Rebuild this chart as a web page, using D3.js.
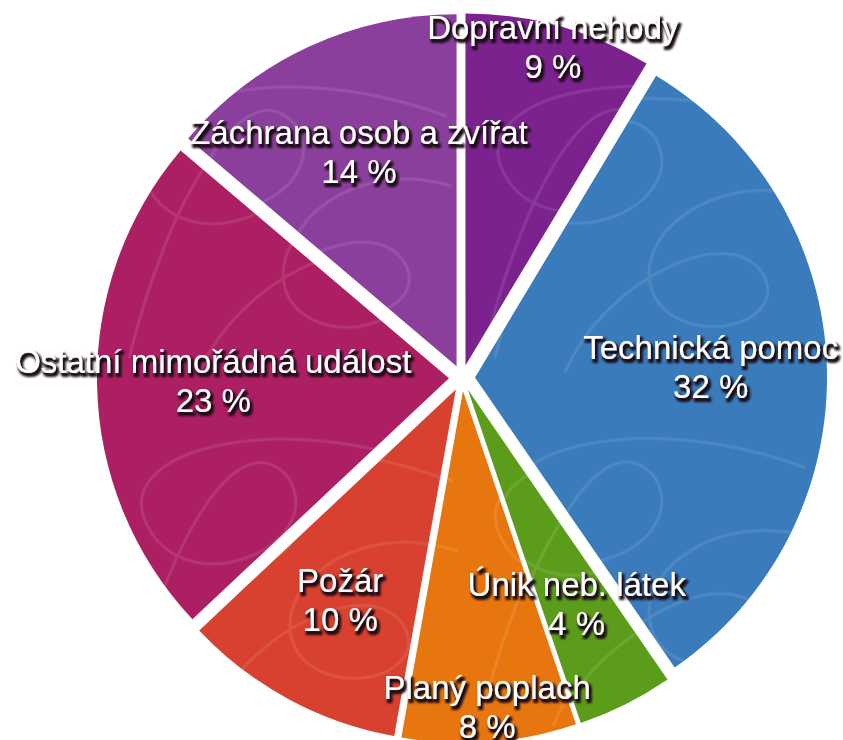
<!DOCTYPE html>
<html>
<head>
<meta charset="utf-8">
<script src="https://cdn.jsdelivr.net/npm/d3@7"></script>
<style>
  html, body { margin: 0; padding: 0; background: #fff; }
  svg { display: block; }
</style>
</head>
<body>
<svg class="pie-chart"></svg>
<script>
// share of interventions by type (percent)
var categories = ["Dopravní nehody", "Technická pomoc", "Únik neb. látek", "Planý poplach",
                  "Požár", "Ostatní mimořádná událost", "Záchrana osob a zvířat"];
var values = [8.6, 31.8, 4.4, 8.0, 10.2, 23.2, 13.8];
var colors = ["#7b228f", "#3a7bbb", "#5b9d1b", "#e8760f", "#d8402f", "#ac1f62", "#8b3f9d"];

// label distance from centre, as a fraction of the radius (two small ones pushed out)
var labelRadius = [0.93, 0.67, 0.69, 0.91, 0.69, 0.67, 0.66];

var svgWidth = 843, svgHeight = 740;
var cx = 462, cy = 378, radius = 352, explode = 13;

var svg = d3.select("svg.pie-chart")
    .attr("width", svgWidth)
    .attr("height", svgHeight);

var defs = svg.append("defs");

// faint scribble texture laid over the slices
var pat = defs.append("pattern")
    .attr("id", "scribble")
    .attr("patternUnits", "userSpaceOnUse")
    .attr("width", 340)
    .attr("height", 340);
var scribbles = [
    "M20,320 C60,160 130,40 180,100 C220,170 70,230 35,140 C10,70 170,30 330,90",
    "M90,335 C130,240 260,180 290,240 C310,290 210,310 180,260 C150,200 240,130 335,160"
];
pat.selectAll("path")
    .data(scribbles)
    .enter()
    .append("path")
    .attr("d", function (d) { return d; })
    .style("fill", "none")
    .style("stroke", "#fff")
    .style("stroke-opacity", 0.1)
    .style("stroke-width", 3);

// dark drop shadow under the white labels
var shadow = defs.append("filter")
    .attr("id", "shadow")
    .attr("x", "-5%").attr("y", "-20%")
    .attr("width", "115%").attr("height", "150%");
shadow.append("feMorphology")
    .attr("in", "SourceAlpha")
    .attr("operator", "dilate")
    .attr("radius", 0.6)
    .attr("result", "thick");
shadow.append("feOffset")
    .attr("in", "thick")
    .attr("dx", 2)
    .attr("dy", 2.5)
    .attr("result", "moved");
shadow.append("feGaussianBlur")
    .attr("in", "moved")
    .attr("stdDeviation", 0.8)
    .attr("result", "soft");
shadow.append("feFlood")
    .attr("flood-color", "#1a0a14");
shadow.append("feComposite")
    .attr("in2", "soft")
    .attr("operator", "in")
    .attr("result", "shade");
var merge = shadow.append("feMerge");
merge.append("feMergeNode").attr("in", "shade");
merge.append("feMergeNode").attr("in", "SourceGraphic");

var total = d3.sum(values);
var data = categories.map(function (c, i) {
    return { name: c, value: values[i], color: colors[i], lr: labelRadius[i] };
});

var pie = d3.pie()
    .sort(null)
    .value(function (d) { return d.value; });

var arc = d3.arc()
    .innerRadius(0)
    .outerRadius(radius);

function mid(d) { return (d.startAngle + d.endAngle) / 2; }
function shift(d) {
    var a = mid(d);
    return [explode * Math.sin(a), -explode * Math.cos(a)];
}

var g = svg.append("g")
    .attr("transform", "translate(" + cx + "," + cy + ")");

var slices = g.selectAll(".slice")
    .data(pie(data))
    .enter()
    .append("g")
    .attr("class", "slice")
    .attr("transform", function (d) {
        return "translate(" + shift(d) + ")";
    });

slices.append("path")
    .attr("d", arc)
    .attr("fill", function (d) { return d.data.color; });

slices.append("path")
    .attr("d", arc)
    .attr("fill", "url(#scribble)");

// labels: name and rounded percent
var labels = g.selectAll(".label")
    .data(pie(data))
    .enter()
    .append("text")
    .attr("class", "label")
    .attr("text-anchor", "middle")
    .attr("filter", "url(#shadow)")
    .style("font-family", "Helvetica, 'Liberation Sans', Arial, sans-serif")
    .style("font-size", "33px")
    .style("fill", "#fff")
    .attr("transform", function (d) {
        var a = mid(d), s = shift(d), r = radius * d.data.lr;
        return "translate(" + (s[0] + r * Math.sin(a)) + "," + (s[1] - r * Math.cos(a)) + ")";
    });

labels.append("tspan")
    .attr("x", 0)
    .attr("y", -11)
    .text(function (d) { return d.data.name; });

labels.append("tspan")
    .attr("x", 0)
    .attr("y", 28)
    .text(function (d) { return Math.round(d.data.value / total * 100) + " %"; });
</script>
</body>
</html>
